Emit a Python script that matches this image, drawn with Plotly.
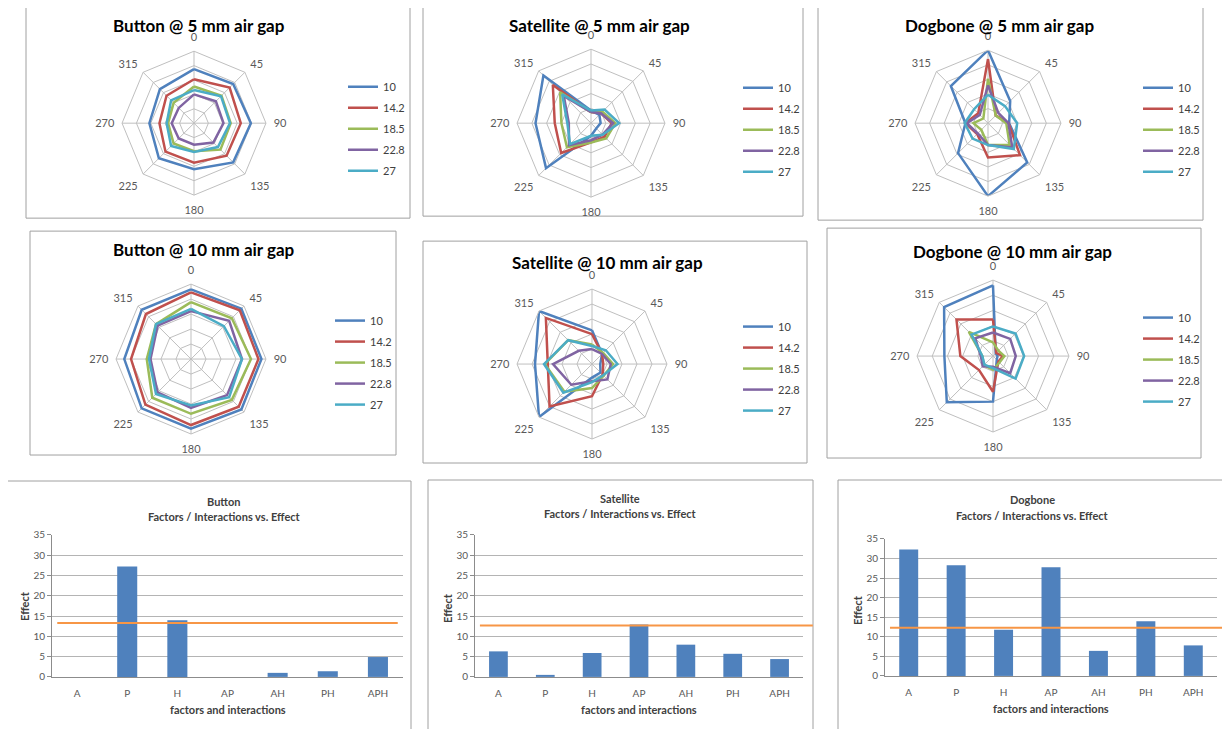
import plotly.graph_objects as go

# ---------------- data ----------------
angles = ["0", "45", "90", "135", "180", "225", "270", "315"]
series_names = ["10", "14.2", "18.5", "22.8", "27"]

button_5mm = [
    [3.75, 3.85, 3.95, 3.85, 3.2, 3.45, 3.1, 3.35],
    [3.05, 3.5, 3.25, 3.2, 2.75, 2.8, 2.4, 2.7],
    [2.55, 2.7, 2.55, 2.6, 1.95, 2.0, 1.8, 2.0],
    [2.0, 2.15, 2.05, 1.9, 1.5, 1.5, 1.55, 1.5],
    [2.3, 2.65, 2.5, 2.35, 2.0, 2.25, 1.9, 2.25],
]
satellite_5mm = [
    [0.85, 0.8, 0.65, 0.5, 0.85, 4.3, 3.75, 4.55],
    [0.75, 0.95, 1.4, 1.3, 1.3, 2.85, 2.45, 3.65],
    [0.75, 1.1, 1.65, 1.45, 1.3, 2.3, 2.0, 2.95],
    [0.75, 0.95, 1.5, 1.1, 1.15, 2.1, 1.5, 2.6],
    [0.85, 1.3, 1.9, 1.1, 0.85, 2.0, 1.6, 2.75],
]
dogbone_5mm = [
    [5.0, 2.15, 1.45, 3.8, 5.0, 2.9, 1.55, 3.6],
    [4.4, 0.75, 1.4, 3.1, 2.35, 1.05, 1.55, 0.95],
    [3.05, 0.75, 1.25, 2.1, 1.5, 0.65, 1.0, 0.45],
    [2.6, 1.0, 1.4, 2.35, 1.5, 1.0, 1.45, 0.8],
    [1.95, 1.65, 2.0, 2.5, 1.5, 1.5, 1.6, 1.35],
]
button_10mm = [
    [4.65, 4.75, 4.7, 4.75, 4.65, 4.65, 4.45, 4.65],
    [4.45, 4.6, 4.5, 4.5, 4.4, 4.3, 4.0, 4.25],
    [3.8, 3.85, 4.0, 3.85, 3.65, 3.65, 2.95, 3.3],
    [3.2, 3.6, 3.4, 3.4, 3.25, 3.15, 2.7, 3.15],
    [3.35, 3.1, 3.4, 3.6, 3.1, 3.3, 2.8, 3.3],
]
satellite_10mm = [
    [2.25, 0.95, 0.55, 0.8, 0.9, 5.0, 3.8, 5.0],
    [2.0, 0.95, 0.75, 1.0, 2.15, 4.0, 2.95, 4.35],
    [1.3, 1.05, 1.4, 1.1, 1.6, 2.6, 3.15, 2.25],
    [1.0, 0.95, 1.25, 1.45, 1.15, 1.95, 2.6, 1.25],
    [1.2, 1.3, 1.7, 1.05, 1.2, 2.7, 3.2, 2.25],
]
dogbone_10mm = [
    [4.65, 0.25, 0.3, 0.35, 3.0, 4.3, 3.2, 4.55],
    [2.4, 0.3, 0.65, 0.5, 2.35, 1.3, 2.15, 3.4],
    [0.9, 0.5, 0.75, 0.6, 0.9, 0.85, 0.7, 2.25],
    [1.55, 1.6, 1.5, 1.6, 0.7, 0.95, 0.8, 1.65],
    [1.95, 2.1, 2.05, 2.1, 0.8, 0.8, 0.7, 2.0],
]

factors = ["A", "P", "H", "AP", "AH", "PH", "APH"]
button_effect = [0, 27.2, 13.95, 0, 1.0, 1.4, 4.9]
satellite_effect = [6.3, 0.5, 5.9, 12.95, 7.95, 5.7, 4.4]
dogbone_effect = [32.3, 28.3, 11.8, 27.8, 6.4, 14.0, 7.8]
button_threshold = 13.3
satellite_threshold = 12.65
dogbone_threshold = 12.3

# ---------------- styling / layout ----------------
W, H = 1230, 729
OFFX, OFFY, SY = 8, 14, 0.984  # page offset / vertical scale of the capture
series_colors = ["#4F81BD", "#C0504D", "#9BBB59", "#8064A2", "#4BACC6"]
bar_color = "#4F81BD"
thr_color = "#F79646"
grid_gray = "#BFBFBF"
border_gray = "#A0A0A0"
FONT = "Lato"


def fx(x):
    return (x - OFFX) / W


def fy(y):
    return 1 - (y / SY - OFFY) / H


radar_panels = [
    # title, data, center(px), radius, title pos, legend (x, ytop), border box
    ("Button @ 5 mm air gap", button_5mm, (194, 123), 72, (199, 25), (343, 72), (26, 7, 410, 218)),
    ("Satellite @ 5 mm air gap", satellite_5mm, (591, 123), 74, (599, 25), (738, 73), (423, 3, 803, 216)),
    ("Dogbone @ 5 mm air gap", dogbone_5mm, (988, 123), 73, (999, 25), (1138, 73), (818, 7, 1203, 220)),
    ("Button @ 10 mm air gap", button_10mm, (191, 359), 75, (204, 249), (330, 306), (30, 231, 396, 455)),
    ("Satellite @ 10 mm air gap", satellite_10mm, (592, 364), 75, (607, 262), (738, 312), (423, 241, 807, 463)),
    ("Dogbone @ 10 mm air gap", dogbone_10mm, (993, 356), 76, (1013, 251), (1138, 303), (827, 228, 1201, 458)),
]

bar_panels = [
    ("Button", button_effect, button_threshold, (52, 403, 535, 677), (5, 481, 411, 760),
     (224, 502, 517), (228, 710), (25, 606)),
    ("Satellite", satellite_effect, satellite_threshold, (475, 803, 535, 677), (428, 480, 813, 760),
     (620, 499, 514), (639, 710), (448, 608)),
    ("Dogbone", dogbone_effect, dogbone_threshold, (885, 1217, 539, 676), (838, 480, 1225, 760),
     (1032, 500, 516), (1051, 709), (858, 610)),
]

fig = go.Figure()
layout = dict(
    width=W, height=H, margin=dict(l=0, r=0, t=0, b=0),
    paper_bgcolor="white", plot_bgcolor="white",
    font=dict(family=FONT, color="#404040"),
    showlegend=True,
)
shapes = []
annotations = []

for i, (title, data, (cx, cy), R, (tx, ty), (lx, ly), box) in enumerate(radar_panels):
    pname = "polar" if i == 0 else f"polar{i + 1}"
    lname = "legend" if i == 0 else f"legend{i + 1}"
    for s, (name, vals) in enumerate(zip(series_names, data)):
        fig.add_trace(go.Scatterpolar(
            r=vals + vals[:1], theta=angles + angles[:1],
            mode="lines", name=name,
            line=dict(color=series_colors[s], width=2.5),
            subplot=pname, legend=lname, legendgroup=f"{pname}_{name}",
            hoverinfo="skip",
        ))
    layout[pname] = dict(
        domain=dict(x=[fx(cx - R), fx(cx + R)], y=[fy(cy + R), fy(cy - R)]),
        bgcolor="white", gridshape="linear",
        angularaxis=dict(type="category", categoryarray=angles, direction="clockwise",
                         rotation=90, showline=True, linecolor=grid_gray, linewidth=1,
                         gridcolor=grid_gray, gridwidth=1, ticks="outside", ticklen=5,
                         tickcolor="rgba(0,0,0,0)",
                         tickfont=dict(family=FONT, size=11, color="#595959")),
        radialaxis=dict(range=[0, 5], dtick=1, showticklabels=False, ticks="",
                        showline=False, gridcolor=grid_gray, gridwidth=1),
    )
    layout[lname] = dict(
        x=fx(lx), y=fy(ly), xanchor="left", yanchor="top",
        bgcolor="rgba(0,0,0,0)", borderwidth=0,
        font=dict(family=FONT, size=11, color="#404040"),
        tracegroupgap=2, itemwidth=30, traceorder="grouped",
    )
    annotations.append(dict(
        text=f"<b>{title}</b>", x=fx(tx), y=fy(ty), xref="paper", yref="paper",
        showarrow=False, xanchor="center", yanchor="middle",
        font=dict(family=FONT, size=17, color="#000000"),
    ))
    x0, y0, x1, y1 = box
    shapes.append(dict(type="rect", xref="paper", yref="paper",
                       x0=fx(x0), x1=fx(x1), y0=fy(y1), y1=fy(y0),
                       line=dict(color=border_gray, width=1), layer="below"))

for j, (name, effect, thr, (ax0, ax1, ay0, ay1), box, (tcx, t1y, t2y), (xtx, xty), (ytx, yty)) in enumerate(bar_panels):
    xa = "x" if j == 0 else f"x{j + 1}"
    ya = "y" if j == 0 else f"y{j + 1}"
    xkey = "xaxis" if j == 0 else f"xaxis{j + 1}"
    ykey = "yaxis" if j == 0 else f"yaxis{j + 1}"
    fig.add_trace(go.Bar(
        x=factors, y=effect, xaxis=xa, yaxis=ya, width=0.4,
        marker=dict(color=bar_color, line=dict(width=0)),
        showlegend=False, hoverinfo="skip",
    ))
    layout[xkey] = dict(
        domain=[fx(ax0), fx(ax1)], anchor=ya, type="category", categoryarray=factors,
        showline=True, linecolor="#8C8C8C", linewidth=1, ticks="", showgrid=False,
        tickfont=dict(family=FONT, size=10, color="#595959"), fixedrange=True,
        ticklabelstandoff=7,
    )
    layout[ykey] = dict(
        domain=[fy(ay1), fy(ay0)], anchor=xa, range=[0, 35], dtick=5,
        showline=True, linecolor="#8C8C8C", linewidth=1, ticks="outside", ticklen=4,
        tickcolor="#8C8C8C", showgrid=True, gridcolor="#B4B4B4", gridwidth=1,
        zeroline=False, tickfont=dict(family=FONT, size=10, color="#595959"),
        fixedrange=True,
    )
    shapes.append(dict(type="line", xref=f"{xa} domain", yref=ya,
                       x0=0.015, x1=0.985 if j == 0 else 1.03, y0=thr, y1=thr,
                       line=dict(color=thr_color, width=2), layer="above"))
    common = dict(xref="paper", yref="paper", showarrow=False, xanchor="center", yanchor="middle")
    annotations += [
        dict(text=f"<b>{name}</b>", x=fx(tcx), y=fy(t1y),
             font=dict(family=FONT, size=11, color="#404040"), **common),
        dict(text="<b>Factors / Interactions vs. Effect</b>", x=fx(tcx), y=fy(t2y),
             font=dict(family=FONT, size=11, color="#404040"), **common),
        dict(text="<b>factors and interactions</b>", x=fx(xtx), y=fy(xty),
             font=dict(family=FONT, size=11, color="#404040"), **common),
        dict(text="<b>Effect</b>", x=fx(ytx), y=fy(yty), textangle=-90,
             font=dict(family=FONT, size=11, color="#404040"), **common),
    ]
    x0, y0, x1, y1 = box
    shapes.append(dict(type="rect", xref="paper", yref="paper",
                       x0=fx(x0), x1=fx(x1), y0=fy(y1), y1=fy(y0),
                       line=dict(color=border_gray, width=1), layer="below"))

layout["shapes"] = shapes
layout["annotations"] = annotations
fig.update_layout(**layout)
fig.write_html("out.html")
